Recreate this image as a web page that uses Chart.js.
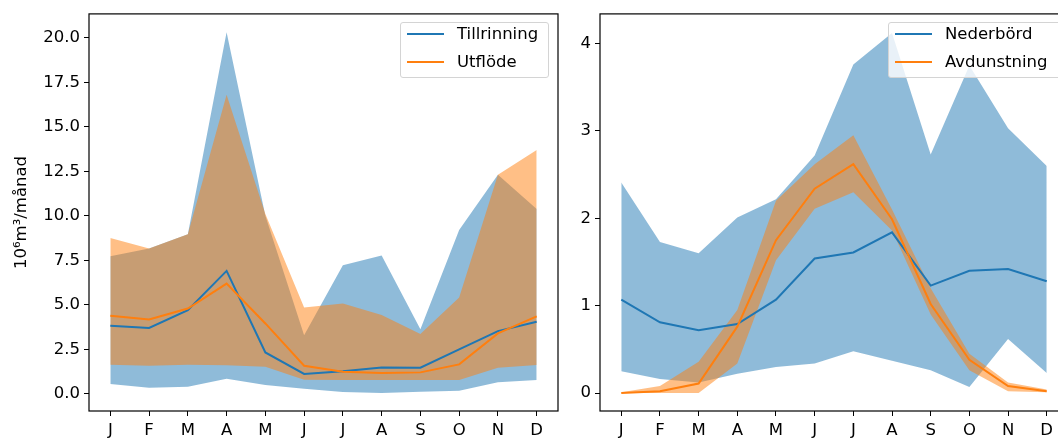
<!DOCTYPE html>
<html>
<head>
<meta charset="utf-8">
<script src="https://cdn.jsdelivr.net/npm/chart.js@4.4.1/dist/chart.umd.min.js"></script>
<style>
  html, body { margin: 0; padding: 0; background: #fff; width: 1058px; height: 441px; overflow: hidden; }
  .panel { position: absolute; top: 0; height: 441px; }
  #leftPanel { left: 0; width: 575px; }
  #rightPanel { left: 570px; width: 510px; }
  .legend { position: absolute; background: rgba(255,255,255,0.8); border: 1px solid #d4d4d4; border-radius: 3px;
            font: 16.5px "DejaVu Sans", sans-serif; color: #000; box-sizing: border-box; }
  .legend .swatch { position: absolute; left: 6px; width: 37px; height: 2px; }
  .legend .txt { position: absolute; left: 56px; line-height: 20px; white-space: nowrap; }
</style>
</head>
<body>
<div class="panel" id="leftPanel"><canvas id="leftChart"></canvas>
  <div class="legend" id="leftLegend" style="left:400px; top:22px; width:149px; height:56px;"></div>
</div>
<div class="panel" id="rightPanel"><canvas id="rightChart"></canvas>
  <div class="legend" id="rightLegend" style="left:318px; top:22px; width:174px; height:56px;"></div>
</div>
<script>
// Månader
const months = ['J', 'F', 'M', 'A', 'M', 'J', 'J', 'A', 'S', 'O', 'N', 'D'];

// Vänster: tillrinning och utflöde (10^6 m3/månad)
const tillrinning    = [3.82, 3.70, 4.70, 6.90, 2.32, 1.11, 1.27, 1.48, 1.46, 2.49, 3.52, 4.04];
const tillrinningMax = [7.73, 8.16, 8.96, 20.31, 10.0, 3.29, 7.22, 7.77, 3.62, 9.20, 12.30, 10.38];
const tillrinningMin = [0.54, 0.34, 0.39, 0.84, 0.49, 0.28, 0.10, 0.04, 0.11, 0.17, 0.64, 0.77];
const utflode        = [4.38, 4.17, 4.79, 6.19, 3.95, 1.57, 1.23, 1.16, 1.20, 1.65, 3.39, 4.35];
const utflodeMax     = [8.75, 8.16, 8.96, 16.80, 10.10, 4.85, 5.07, 4.42, 3.36, 5.40, 12.30, 13.70];
const utflodeMin     = [1.63, 1.57, 1.63, 1.60, 1.52, 0.79, 0.77, 0.77, 0.77, 0.77, 1.46, 1.61];
const leftTicks = [0, 2.5, 5, 7.5, 10, 12.5, 15, 17.5, 20];

// Höger: nederbörd och avdunstning
const nederbord    = [1.07, 0.81, 0.72, 0.79, 1.07, 1.54, 1.61, 1.84, 1.23, 1.40, 1.42, 1.28];
const nederbordMax = [2.41, 1.73, 1.60, 2.01, 2.22, 2.72, 3.76, 4.12, 2.73, 3.75, 3.03, 2.60];
const nederbordMin = [0.25, 0.16, 0.12, 0.22, 0.30, 0.34, 0.48, 0.37, 0.26, 0.07, 0.62, 0.23];
const avdunstning    = [0.00, 0.02, 0.11, 0.76, 1.75, 2.34, 2.62, 1.99, 1.02, 0.38, 0.08, 0.02];
const avdunstningMax = [0.01, 0.08, 0.36, 0.95, 2.20, 2.62, 2.95, 2.10, 1.20, 0.45, 0.12, 0.04];
const avdunstningMin = [0.00, 0.00, 0.00, 0.34, 1.52, 2.11, 2.30, 1.86, 0.90, 0.26, 0.02, 0.01];
const rightTicks = [0, 1, 2, 3, 4];

const C0 = '#1f77b4', C1 = '#ff7f0e';
const C0a = 'rgba(31,119,180,0.5)', C1a = 'rgba(255,127,14,0.5)';
const FONT = { family: 'DejaVu Sans', size: 16.5 };

const pts = arr => arr.map((v, i) => ({ x: i, y: v }));

// ram runt hela plotytan (som matplotlib)
const frame = {
  id: 'frame',
  afterDatasetsDraw(chart) {
    const { ctx, chartArea: a } = chart;
    ctx.save();
    ctx.strokeStyle = '#000';
    ctx.lineWidth = 1.2;
    ctx.strokeRect(a.left, a.top, a.right - a.left, a.bottom - a.top);
    ctx.restore();
  }
};

function bandChart(id, o) {
  const none = 'rgba(0,0,0,0)';
  return new Chart(document.getElementById(id), {
    type: 'line',
    data: {
      datasets: [
        { label: o.labels[1], data: pts(o.line2), borderColor: C1, borderWidth: 2, fill: false },
        { label: o.labels[0], data: pts(o.line1), borderColor: C0, borderWidth: 2, fill: false },
        { data: pts(o.max2), borderColor: none, borderWidth: 0, backgroundColor: C1a, fill: '+1' },
        { data: pts(o.min2), borderColor: none, borderWidth: 0, fill: false },
        { data: pts(o.max1), borderColor: none, borderWidth: 0, backgroundColor: C0a, fill: '+1' },
        { data: pts(o.min1), borderColor: none, borderWidth: 0, fill: false },
      ]
    },
    options: {
      responsive: true,
      maintainAspectRatio: false,
      animation: false,
      elements: { point: { radius: 0 }, line: { tension: 0 } },
      layout: { padding: { top: 13, right: o.padRight, left: 0, bottom: 0 } },
      plugins: { legend: { display: false }, tooltip: { enabled: false }, filler: { drawTime: 'beforeDatasetsDraw' } },
      scales: {
        x: {
          type: 'linear', min: -0.55, max: 11.55,
          afterBuildTicks: s => { s.ticks = months.map((_, i) => ({ value: i })); },
          afterFit: s => { s.height = 30; },
          border: { display: false },
          grid: { drawOnChartArea: false, drawTicks: true, tickLength: 5, color: '#000' },
          ticks: { autoSkip: false, maxRotation: 0, padding: 5, color: '#000', font: FONT, callback: v => months[v] }
        },
        y: {
          min: o.yMin, max: o.yMax,
          afterBuildTicks: s => { s.ticks = o.yTicks.map(v => ({ value: v })); },
          afterFit: s => { s.width = o.yWidth; },
          border: { display: false },
          grid: { drawOnChartArea: false, drawTicks: true, tickLength: 5, color: '#000' },
          ticks: { padding: 4, color: '#000', font: FONT, callback: o.fmt },
          title: { display: !!o.title, text: o.title, color: '#000', font: FONT, padding: { top: 12, bottom: 0 } }
        }
      }
    },
    plugins: [frame]
  });
}

function legend(id, labels) {
  const el = document.getElementById(id);
  [C0, C1].forEach((c, i) => {
    const top = 11.3 + i * 27.7;
    el.innerHTML += `<div class="swatch" style="top:${top - 1 - 22 + 22}px; background:${c}"></div>` +
                    `<div class="txt" style="top:${top - 10}px">${labels[i]}</div>`;
  });
}

bandChart('leftChart', {
  labels: ['Tillrinning', 'Utflöde'],
  line1: tillrinning, max1: tillrinningMax, min1: tillrinningMin,
  line2: utflode, max2: utflodeMax, min2: utflodeMin,
  yMin: -0.97, yMax: 21.34, yTicks: leftTicks, yWidth: 89, padRight: 17,
  fmt: v => v.toFixed(1), title: '10⁶m³/månad'
});
bandChart('rightChart', {
  labels: ['Nederbörd', 'Avdunstning'],
  line1: nederbord, max1: nederbordMax, min1: nederbordMin,
  line2: avdunstning, max2: avdunstningMax, min2: avdunstningMin,
  yMin: -0.205, yMax: 4.34, yTicks: rightTicks, yWidth: 30, padRight: 12,
  fmt: v => String(v), title: ''
});
legend('leftLegend', ['Tillrinning', 'Utflöde']);
legend('rightLegend', ['Nederbörd', 'Avdunstning']);
</script>
</body>
</html>
